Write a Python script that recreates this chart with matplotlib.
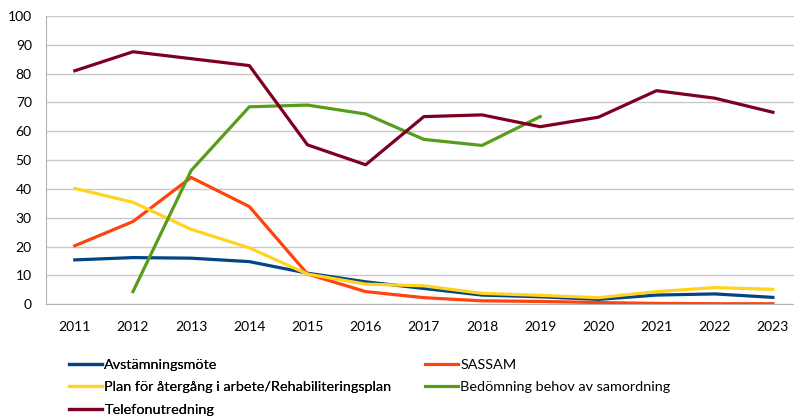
import numpy as np
import matplotlib.pyplot as plt

# Data
years = list(range(2011, 2024))
avstamning = [15.4, 16.2, 16.0, 14.8, 10.8, 7.8, 5.5, 3.2, 2.6, 1.7, 3.2, 3.6, 2.4]
sassam = [20.3, 28.7, 44.0, 33.9, 10.5, 4.4, 2.3, 1.2, 1.0, 0.6, 0.3, 0.2, 0.2]
plan = [40.2, 35.4, 26.0, 19.6, 10.5, 7.0, 6.4, 3.8, 3.1, 2.3, 4.4, 5.8, 5.2]
bedomning = [np.nan, 4.4, 46.4, 68.5, 69.1, 66.0, 57.2, 55.1, 65.1,
             np.nan, np.nan, np.nan, np.nan]
telefon = [81.0, 87.6, 85.2, 82.8, 55.3, 48.4, 65.1, 65.7, 61.6, 64.9, 74.1, 71.5, 66.6]

plt.rcParams['font.family'] = ['Lato', 'DejaVu Sans']

fig = plt.figure(figsize=(7.94, 4.18), dpi=100)
ax = fig.add_axes([45.7 / 794, 1 - 304.3 / 418, (802 - 45.7) / 794, (304.3 - 16) / 418])

x = np.arange(len(years))
lw = 2.3
l1, = ax.plot(x, avstamning, color='#004586', lw=lw, label='Avstämningsmöte')
l2, = ax.plot(x, sassam, color='#ff420e', lw=lw, label='SASSAM')
l3, = ax.plot(x, plan, color='#ffd320', lw=lw, label='Plan för återgång i arbete/Rehabiliteringsplan')
l4, = ax.plot(x, bedomning, color='#579d1c', lw=lw, label='Bedömning behov av samordning')
l5, = ax.plot(x, telefon, color='#7e0021', lw=lw, label='Telefonutredning')

ax.set_xlim(-0.5, len(years) - 0.5)
ax.set_ylim(0, 100)
ax.set_yticks(range(0, 101, 10))
ax.set_xticks(x)
ax.set_xticklabels([str(y) for y in years])
ax.grid(axis='y', color='#c8c8c8', lw=1)
ax.set_axisbelow(True)
for side in ['top', 'right']:
    ax.spines[side].set_visible(False)
for side in ['left', 'bottom']:
    ax.spines[side].set_color('#b3b3b3')
ax.tick_params(length=0, labelsize=10, colors='black')
ax.tick_params(axis='x', pad=12)
ax.tick_params(axis='y', pad=10)

leg_kw = dict(loc='upper left', frameon=False, fontsize=10.4, handlelength=2.3,
              handletextpad=0.15, labelspacing=0.7, borderaxespad=0, borderpad=0)
leg1 = fig.legend([l1, l3, l5], [l.get_label() for l in [l1, l3, l5]],
                  bbox_to_anchor=(69 / 794, 1 - 359 / 418), **leg_kw)
fig.add_artist(leg1)
fig.legend([l2, l4], [l.get_label() for l in [l2, l4]],
           bbox_to_anchor=(425 / 794, 1 - 359 / 418), **leg_kw)

fig.savefig('out.png', dpi=100)
